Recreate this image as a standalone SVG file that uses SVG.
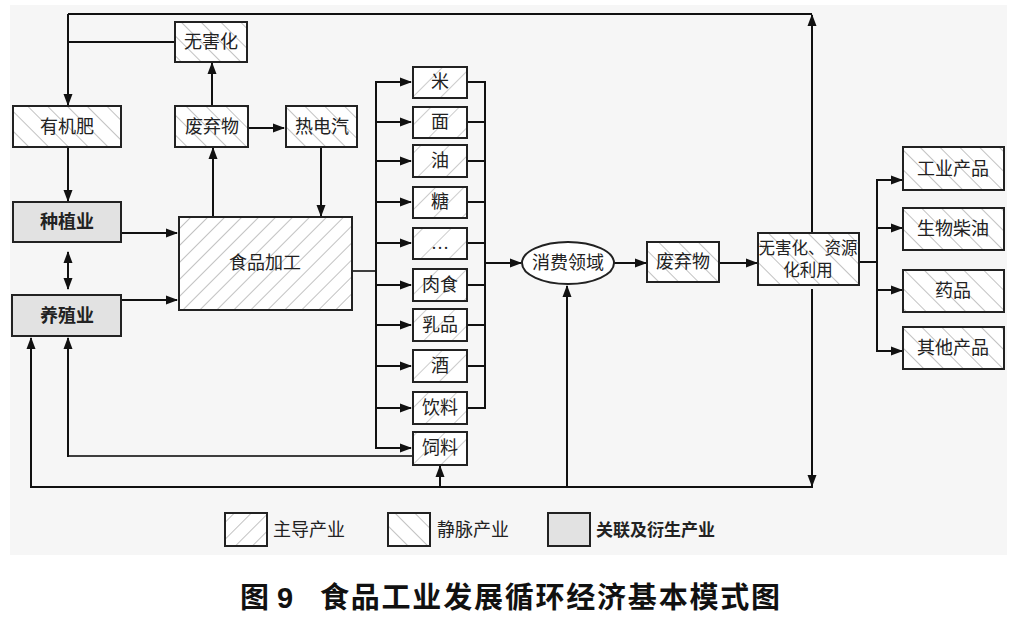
<svg xmlns="http://www.w3.org/2000/svg" width="1024" height="626" viewBox="0 0 1024 626">
<style>
.box{stroke:#222;stroke-width:2;}
.t{font-family:"Liberation Serif","Noto Sans CJK SC",sans-serif;font-size:18px;fill:#222;text-anchor:middle;dominant-baseline:central;}
.tb{font-family:"Liberation Sans","Noto Sans CJK SC",sans-serif;font-size:18px;font-weight:bold;fill:#222;text-anchor:middle;dominant-baseline:central;}
.ln{stroke:#111;stroke-width:2;fill:none;}
.la{stroke:#111;stroke-width:2;fill:none;marker-end:url(#ah);}
.lt{stroke:#000;stroke-width:1.5;fill:none;}
.cap{font-family:"Liberation Sans","Noto Sans CJK SC",sans-serif;font-size:29px;font-weight:bold;fill:#111;dominant-baseline:central;}
</style>
<defs>
<marker id="ah" viewBox="0 0 12 10" refX="11" refY="5" markerWidth="12" markerHeight="10" markerUnits="userSpaceOnUse" orient="auto-start-reverse">
<path d="M0,0.5 L12,5 L0,9.5 z" fill="#111"/>
</marker>
<pattern id="fw" patternUnits="userSpaceOnUse" width="12" height="12" patternTransform="rotate(45)">
<rect width="12" height="12" fill="#fff"/>
<line x1="0" y1="0" x2="0" y2="12" stroke="#999" stroke-width="1.2"/>
</pattern>
<pattern id="fw2" patternUnits="userSpaceOnUse" width="20" height="20" patternTransform="rotate(45)">
<rect width="20" height="20" fill="#fff"/>
<line x1="0" y1="0" x2="0" y2="20" stroke="#aaa" stroke-width="1.2"/>
</pattern>
<pattern id="bw" patternUnits="userSpaceOnUse" width="14" height="14" patternTransform="rotate(-45)">
<rect width="14" height="14" fill="#fff"/>
<line x1="0" y1="0" x2="0" y2="14" stroke="#999" stroke-width="1.2"/>
</pattern>
</defs>
<rect width="1024" height="626" fill="#fff"/>
<rect x="10" y="5" width="997" height="550" fill="#f6f6f6"/>

<g id="connectors">
<polyline class="ln" points="812,14 68,14"/>
<line class="la" x1="68" y1="14" x2="68" y2="105"/>
<line class="ln" x1="175" y1="42" x2="68" y2="42"/>
<line class="la" x1="812" y1="232" x2="812" y2="15"/>
<line class="la" x1="68" y1="148" x2="68" y2="201"/>
<line class="la" x1="68" y1="252" x2="68" y2="289" style="marker-start:url(#ah)"/>
<line class="la" x1="121" y1="233" x2="177" y2="233"/>
<line class="la" x1="121" y1="300" x2="177" y2="300"/>
<line class="la" x1="213" y1="217" x2="213" y2="148"/>
<line class="la" x1="212" y1="106" x2="212" y2="63"/>
<line class="la" x1="249" y1="128" x2="284" y2="128"/>
<line class="la" x1="321" y1="148" x2="321" y2="216"/>
<line class="lt" x1="352" y1="271" x2="376" y2="271"/>
<line class="ln" x1="376" y1="81" x2="376" y2="449"/>
<line class="la" x1="375" y1="82" x2="411" y2="82"/>
<line class="la" x1="375" y1="122" x2="411" y2="122"/>
<line class="la" x1="375" y1="161" x2="411" y2="161"/>
<line class="la" x1="375" y1="202" x2="411" y2="202"/>
<line class="la" x1="375" y1="243" x2="411" y2="243"/>
<line class="la" x1="375" y1="285" x2="411" y2="285"/>
<line class="la" x1="375" y1="325" x2="411" y2="325"/>
<line class="la" x1="375" y1="366" x2="411" y2="366"/>
<line class="la" x1="375" y1="408" x2="411" y2="408"/>
<line class="la" x1="375" y1="448" x2="411" y2="448"/>
<line class="ln" x1="485" y1="81" x2="485" y2="409"/>
<line class="ln" x1="467" y1="82" x2="486" y2="82"/>
<line class="ln" x1="467" y1="122" x2="486" y2="122"/>
<line class="ln" x1="467" y1="161" x2="486" y2="161"/>
<line class="ln" x1="467" y1="202" x2="486" y2="202"/>
<line class="ln" x1="467" y1="243" x2="486" y2="243"/>
<line class="ln" x1="467" y1="285" x2="486" y2="285"/>
<line class="ln" x1="467" y1="325" x2="486" y2="325"/>
<line class="ln" x1="467" y1="366" x2="486" y2="366"/>
<line class="ln" x1="467" y1="408" x2="486" y2="408"/>
<line class="la" x1="485" y1="263" x2="521" y2="263"/>
<line class="la" x1="614" y1="263" x2="646" y2="263"/>
<line class="la" x1="720" y1="263" x2="757" y2="263"/>
<line class="ln" x1="859" y1="262" x2="877" y2="262"/>
<line class="ln" x1="877" y1="179" x2="877" y2="352"/>
<line class="la" x1="876" y1="180" x2="902" y2="180"/>
<line class="la" x1="876" y1="228" x2="902" y2="228"/>
<line class="la" x1="876" y1="290" x2="902" y2="290"/>
<line class="la" x1="876" y1="351" x2="902" y2="351"/>
<line class="la" x1="812" y1="289" x2="812" y2="486"/>
<line class="ln" x1="813" y1="487" x2="31" y2="487"/>
<line class="la" x1="31" y1="488" x2="31" y2="338"/>
<line class="la" x1="567" y1="487" x2="567" y2="286"/>
<line class="la" x1="440" y1="487" x2="440" y2="466"/>
<line class="lt" x1="412" y1="456" x2="68" y2="456"/>
<line class="la" x1="68" y1="457" x2="68" y2="338"/>
</g>

<g id="n-wuhaihua"><rect class="box" x="175" y="22" width="72" height="40" fill="url(#bw)"/><text class="t" x="211" y="42">无害化</text></g>
<g id="n-youjifei"><rect class="box" x="13" y="106" width="108" height="41" fill="url(#bw)"/><text class="t" x="67" y="127">有机肥</text></g>
<g id="n-feiqiwu1"><rect class="box" x="175" y="106" width="73" height="41" fill="url(#bw)"/><text class="t" x="212" y="127">废弃物</text></g>
<g id="n-redianqi"><rect class="box" x="286" y="106" width="71" height="41" fill="url(#bw)"/><text class="t" x="322" y="127">热电汽</text></g>
<g id="n-zhongzhi"><rect class="box" x="13" y="202" width="108" height="40" fill="#e2e2e2"/><text class="tb" x="67" y="222">种植业</text></g>
<g id="n-yangzhi"><rect class="box" x="12" y="295" width="109" height="41" fill="#e2e2e2"/><text class="tb" x="67" y="316">养殖业</text></g>
<g id="n-shipin"><rect class="box" x="179" y="217" width="173" height="93" fill="url(#fw)"/><text class="t" x="265" y="263">食品加工</text></g>

<g id="n-mi"><rect class="box" x="413" y="67" width="54" height="31" fill="url(#fw2)"/><text class="t" x="440" y="82">米</text></g>
<g id="n-mian"><rect class="box" x="413" y="107" width="54" height="31" fill="url(#fw2)"/><text class="t" x="440" y="122">面</text></g>
<g id="n-you"><rect class="box" x="413" y="145" width="54" height="32" fill="url(#fw2)"/><text class="t" x="440" y="161">油</text></g>
<g id="n-tang"><rect class="box" x="413" y="187" width="54" height="31" fill="url(#fw2)"/><text class="t" x="440" y="202">糖</text></g>
<g id="n-etc"><rect class="box" x="413" y="228" width="54" height="31" fill="url(#fw2)"/><text class="t" x="440" y="243">…</text></g>
<g id="n-roushi"><rect class="box" x="413" y="269" width="54" height="32" fill="url(#fw2)"/><text class="t" x="440" y="285">肉食</text></g>
<g id="n-rupin"><rect class="box" x="413" y="309" width="54" height="32" fill="url(#fw2)"/><text class="t" x="440" y="325">乳品</text></g>
<g id="n-jiu"><rect class="box" x="413" y="350" width="54" height="32" fill="url(#fw2)"/><text class="t" x="440" y="366">酒</text></g>
<g id="n-yinliao"><rect class="box" x="413" y="392" width="54" height="32" fill="url(#fw2)"/><text class="t" x="440" y="408">饮料</text></g>
<g id="n-siliao"><rect class="box" x="413" y="432" width="54" height="33" fill="url(#fw2)"/><text class="t" x="440" y="448">饲料</text></g>

<g id="n-xiaofei"><ellipse class="box" cx="568" cy="263" rx="46" ry="21" fill="#fff"/><text class="t" x="568" y="263">消费领域</text></g>
<g id="n-feiqiwu2"><rect class="box" x="647" y="242" width="72" height="40" fill="url(#bw)"/><text class="t" x="683" y="262">废弃物</text></g>
<g id="n-ziyuanhua"><rect class="box" x="758" y="233" width="101" height="52" fill="url(#bw)"/><text class="t" x="808" y="248" style="font-size:16.5px">无害化、资源</text><text class="t" x="808" y="270" style="font-size:16.5px">化利用</text></g>
<g id="n-gongye"><rect class="box" x="903" y="147" width="101" height="43" fill="url(#bw)"/><text class="t" x="953" y="169">工业产品</text></g>
<g id="n-chaiyou"><rect class="box" x="903" y="208" width="101" height="42" fill="url(#bw)"/><text class="t" x="953" y="229">生物柴油</text></g>
<g id="n-yaopin"><rect class="box" x="903" y="270" width="101" height="42" fill="url(#bw)"/><text class="t" x="953" y="291">药品</text></g>
<g id="n-qita"><rect class="box" x="903" y="327" width="101" height="42" fill="url(#bw)"/><text class="t" x="953" y="348">其他产品</text></g>

<g id="legend">
<rect class="box" x="225" y="513" width="42" height="33" fill="url(#fw)"/>
<text class="t" x="273" y="530" style="text-anchor:start">主导产业</text>
<rect class="box" x="388" y="513" width="42" height="33" fill="url(#bw)"/>
<text class="t" x="437" y="530" style="text-anchor:start">静脉产业</text>
<rect class="box" x="548" y="513" width="42" height="33" fill="#e2e2e2"/>
<text class="tb" x="596" y="530" style="text-anchor:start;font-size:17px">关联及衍生产业</text>
</g>

<g id="caption">
<text class="cap" x="240" y="598">图 9</text>
<text class="cap" x="320" y="598" textLength="460" lengthAdjust="spacing">食品工业发展循环经济基本模式图</text>
</g>
</svg>
